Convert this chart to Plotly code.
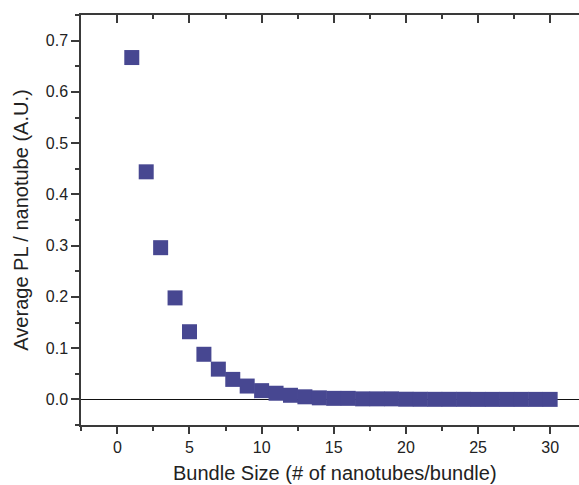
import plotly.graph_objects as go

bundle_size = list(range(1, 31))
avg_pl = [0.667, 0.444, 0.296, 0.198, 0.132, 0.088, 0.059, 0.039, 0.026, 0.017,
          0.012, 0.008, 0.005, 0.003, 0.002, 0.002, 0.001, 0.001, 0.001, 0.0003,
          0.0002, 0.0001, 0.0001, 0.0001, 0.0, 0.0, 0.0, 0.0, 0.0, 0.0]

x_title = "Bundle Size (# of nanotubes/bundle)"
y_title = "Average PL / nanotube (A.U.)"

font_family = "Liberation Sans, Arial, sans-serif"
axis_color = "#3a3a3a"
marker_color = "#474791"

fig = go.Figure()
fig.add_trace(go.Scatter(
    x=bundle_size, y=avg_pl, mode="markers",
    marker=dict(symbol="square", size=15, color=marker_color,
                line=dict(width=0)),
    showlegend=False,
))
# invisible trace to anchor top axis
fig.add_trace(go.Scatter(
    x=bundle_size, y=avg_pl, mode="markers", xaxis="x2",
    marker=dict(opacity=0), showlegend=False, hoverinfo="skip",
))

xr = [-2.52, 32.0]
fig.update_layout(
    width=579, height=485,
    margin=dict(l=81, r=0, t=15, b=60),
    paper_bgcolor="white", plot_bgcolor="white",
    font=dict(family=font_family, color="#222222"),
    xaxis=dict(
        range=xr, tick0=0, dtick=5, ticks="outside", ticklen=7, tickwidth=1.5,
        tickcolor=axis_color, showline=True, linecolor=axis_color, linewidth=1.5,
        showgrid=False, zeroline=False, tickfont=dict(size=16), automargin=False,
        minor=dict(ticks="outside", ticklen=4, tickwidth=1.5, tickcolor=axis_color,
                   dtick=2.5, tick0=0, showgrid=False),
    ),
    xaxis2=dict(
        range=xr, overlaying="x", side="top", tick0=0, dtick=5, ticks="inside",
        ticklen=8, tickwidth=1.5, tickcolor=axis_color, showline=True,
        linecolor=axis_color, linewidth=1.5, showgrid=False, zeroline=False,
        showticklabels=False, automargin=False,
        minor=dict(ticks="inside", ticklen=4, tickwidth=1.5, tickcolor=axis_color,
                   dtick=2.5, tick0=0, showgrid=False),
    ),
    yaxis=dict(
        range=[-0.05, 0.75], tick0=0, dtick=0.1, tickformat=".1f",
        ticks="outside", ticklen=8, tickwidth=1.5, tickcolor=axis_color,
        showline=True, linecolor=axis_color, linewidth=1.5, showgrid=False,
        zeroline=True, zerolinecolor="#111111", zerolinewidth=1.2,
        tickfont=dict(size=16), automargin=False,
        minor=dict(ticks="outside", ticklen=4, tickwidth=1.5, tickcolor=axis_color,
                   dtick=0.05, tick0=0, showgrid=False),
        title=dict(text=y_title, font=dict(size=20), standoff=12),
    ),
    annotations=[dict(
        text=x_title, xref="paper", yref="paper", x=0.51, y=-0.118,
        xanchor="center", yanchor="middle", showarrow=False,
        font=dict(size=20, family=font_family, color="#222222"),
    )],
)

fig.write_html("out.html")
